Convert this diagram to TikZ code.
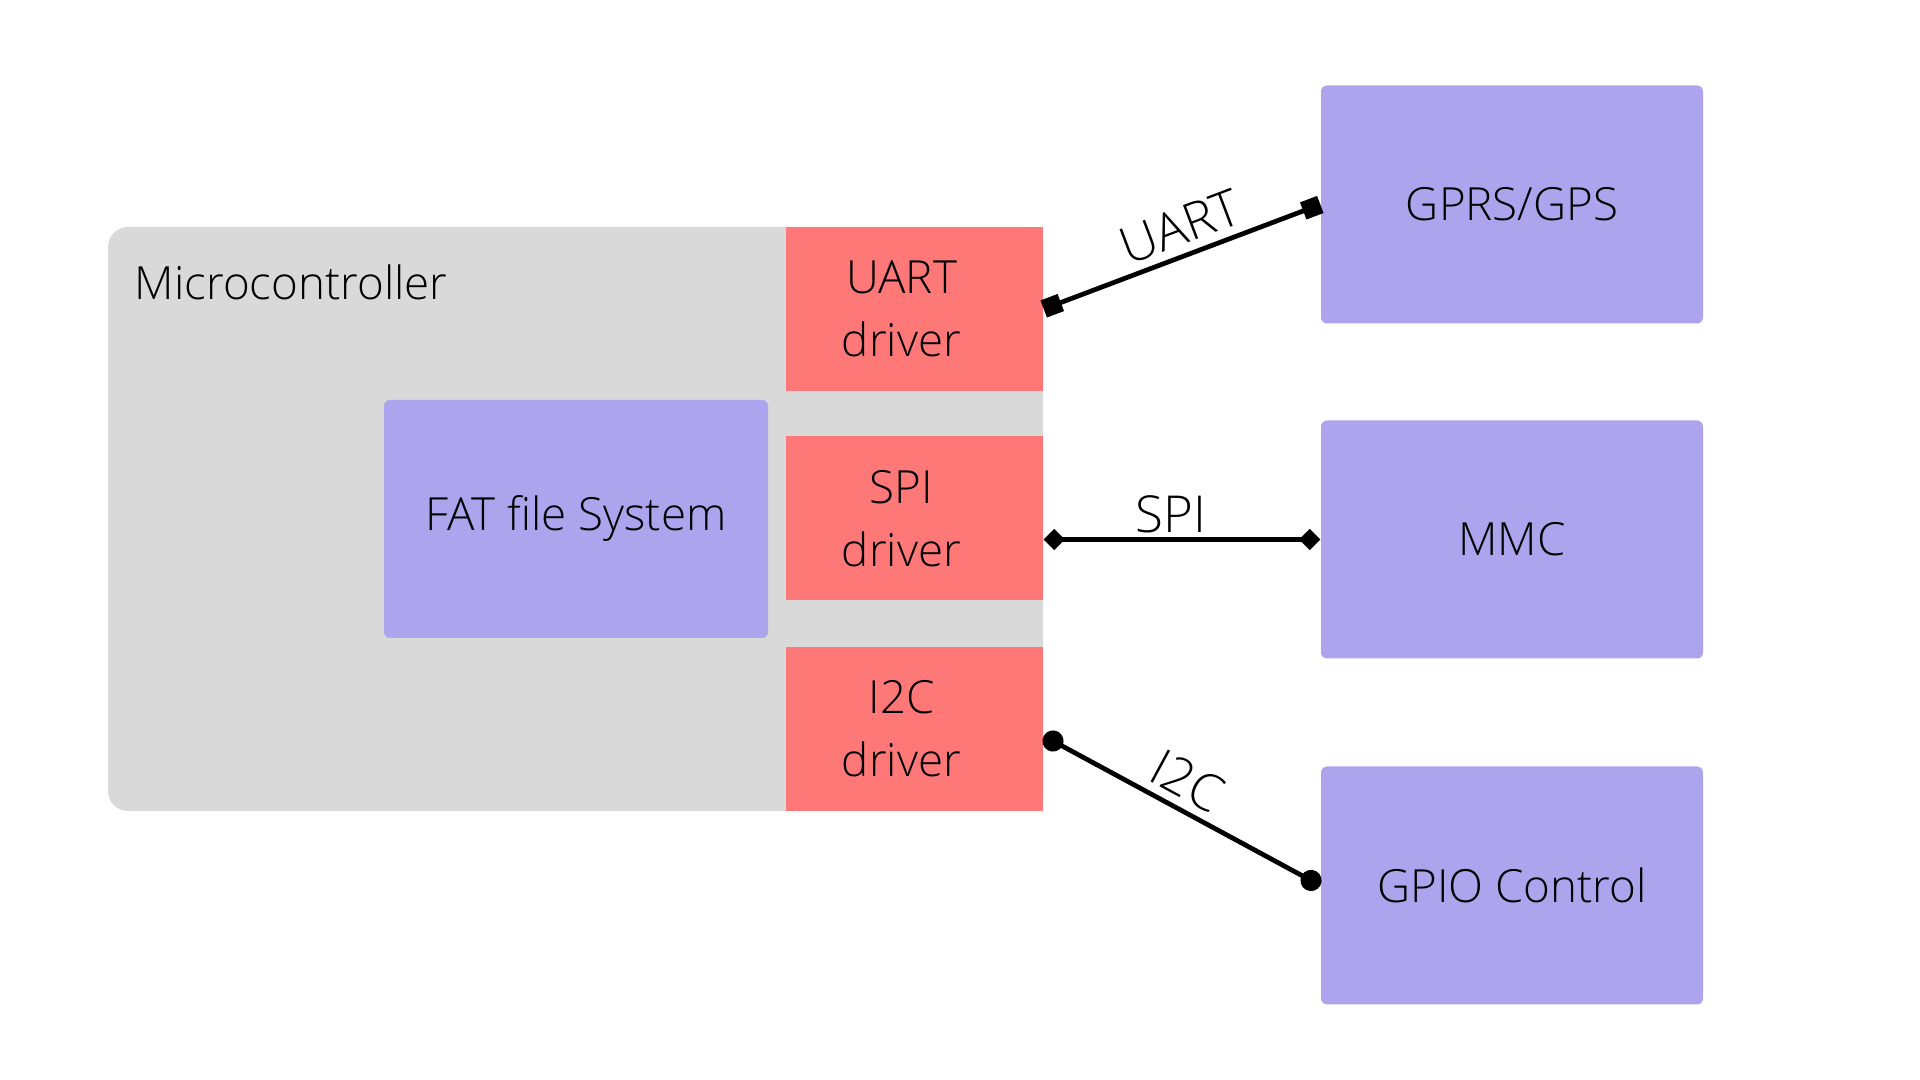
\documentclass[tikz,border=0pt]{standalone}
\usepackage{fontspec}
\setmainfont{Open Sans Light}
\usetikzlibrary{arrows.meta}
\definecolor{mcugray}{HTML}{D9D9D9}
\definecolor{drvred}{HTML}{FF7878}
\definecolor{devpurple}{HTML}{AEA4EE}
\begin{document}
\begin{tikzpicture}[
		txt/.style={font=\fontsize{13}{18}\selectfont, align=center},
		driverbox/.style={fill=drvred, minimum width=2.57cm, minimum height=1.64cm, inner sep=0pt},
		devbox/.style={txt, fill=devpurple, rounded corners=0.06cm, minimum width=3.82cm, minimum height=2.38cm, inner sep=0pt},
		bus/.style={line width=1.35pt},
		buslabel/.style={font=\fontsize{14.5}{16}\selectfont, sloped, above=0pt, inner sep=2.2pt}
	]
			\useasboundingbox (0,0) rectangle (19.2,10.8);
			\node[fill=mcugray, rounded corners=0.2cm, minimum width=9.35cm, minimum height=5.84cm, inner sep=0pt] (mcu) at (5.755,5.61) {};
			\node[txt, anchor=base west, inner sep=0pt] (mculabel) at (1.34,7.80) {Microcontroller};
			\node[driverbox] (uartdrv) at (9.145,7.71) {};
			\node[driverbox] (spidrv) at (9.145,5.615) {};
			\node[driverbox] (i2cdrv) at (9.145,3.51) {};
			\node[txt] (uarttxt) at ([xshift=-0.13cm]uartdrv) {UART\\driver};
			\node[txt] (spitxt) at ([xshift=-0.13cm]spidrv) {SPI\\driver};
			\node[txt] (i2ctxt) at ([xshift=-0.13cm]i2cdrv) {I2C\\driver};
			\node[devbox, minimum width=3.84cm] (fat) at (5.76,5.61) {FAT file System};
			\node[devbox] (gprs) at (15.12,8.755) {GPRS/GPS};
			\node[devbox] (mmc) at (15.12,5.405) {MMC};
			\node[devbox] (gpio) at (15.12,1.945) {GPIO Control};
			\draw[bus, {Square[length=5.2pt,width=5.2pt]}-{Square[length=5.2pt,width=5.2pt]}] (uartdrv.east) -- (gprs.west) node[buslabel, pos=0.53] {UART};
			\draw[bus, {Turned Square[length=6pt,width=6pt]}-{Turned Square[length=6pt,width=6pt]}] (spidrv.east |- mmc.west) -- (mmc.west) node[buslabel, pos=0.46, inner sep=1.2pt] {SPI};
			\draw[bus, {Circle[length=6pt]}-{Circle[length=6pt]}] ([yshift=-0.07cm]i2cdrv.east) -- (gpio.west) node[buslabel, pos=0.47] {I2C};
		\end{tikzpicture}
\end{document}
